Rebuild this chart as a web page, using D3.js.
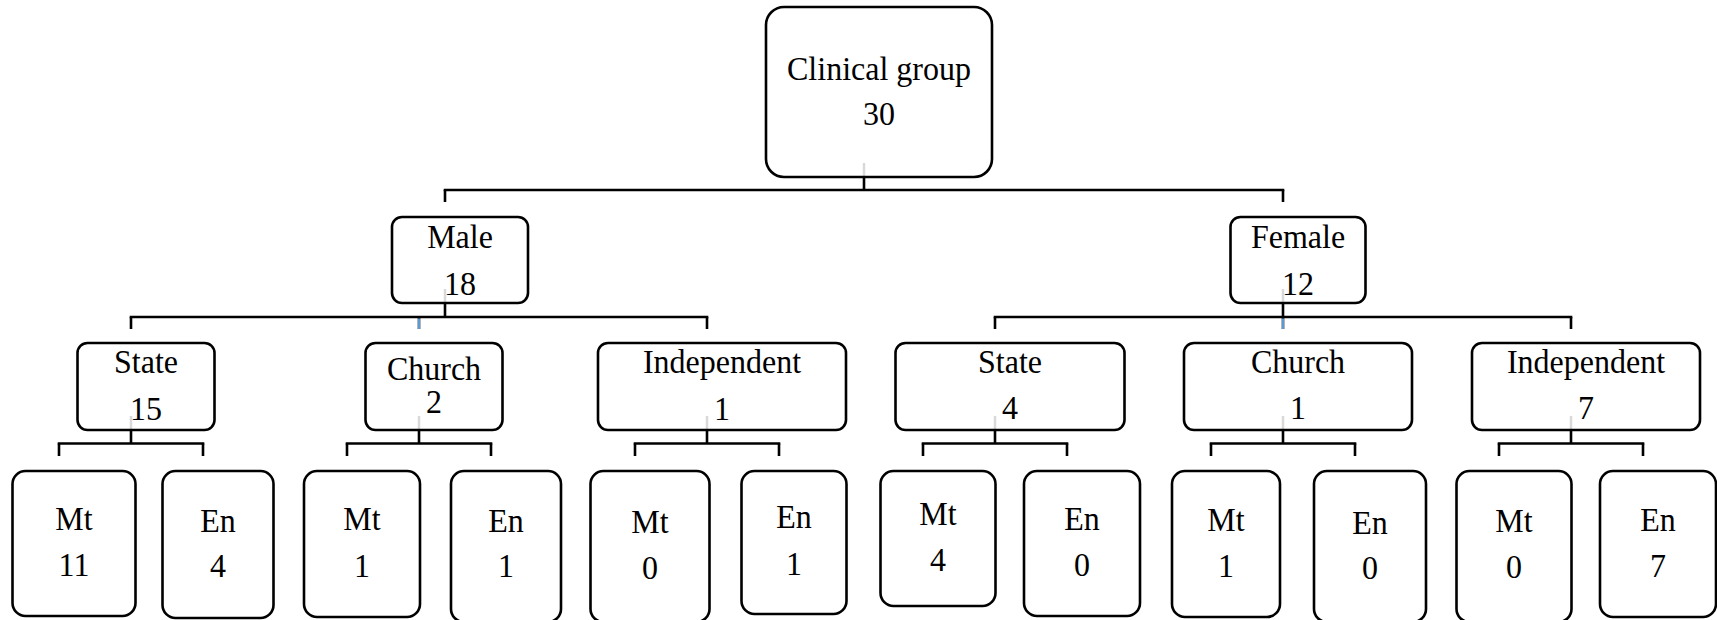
<!DOCTYPE html>
<html>
<head>
<meta charset="utf-8">
<script src="https://cdn.jsdelivr.net/npm/d3@7/dist/d3.min.js"></script>
<style>
  html, body { margin: 0; padding: 0; background: #fff; }
  svg { display: block; }
  text { font-family: "Liberation Serif", "Times New Roman", serif; font-size: 32px; fill: #000; }
</style>
</head>
<body>
<svg id="chart" width="1717" height="620"></svg>
<script>
// ---------- DATA ----------
const rootName = "Clinical group";
const rootTotal = 30;
const genders = ["Male", "Female"];
const genderTotals = [18, 12];
const schoolTypes = ["State", "Church", "Independent"];
const schoolTotals = [[15, 2, 1], [4, 1, 7]];
const subjects = ["Mt", "En"];
const subjectCounts = [
  [[11, 4], [1, 1], [0, 1]],
  [[4, 0], [1, 0], [0, 7]]
];

// ---------- LAYOUT / STYLE ----------
const W = 1717, H = 620;
const levelTop = [7, 217, 343, 471];
const levelBottom = [177, 303, 430];
const barY = [190, 317, 443.5];          // horizontal connector per parent level
const dropEnd = [202, 329, 456];         // end of drops towards children
const connectorOffset = -15;
const greyLen = 14;
const leafRange = [74, 1658];
const boxWidths = [[226], [136, 135], [137, 137, 248, 229, 228, 228],
  [123, 111, 116, 110, 119, 105, 115, 116, 108, 112, 115, 116]];
const leafBottoms = [616, 618, 617, 622, 622, 614, 606, 616, 617, 622, 622, 617];
const radii = [18, 10, 10, 13];
const labelBase = [[80], [248, 248], [373, 380, 373, 373, 373, 373],
  [530, 532, 530, 532, 533, 528, 525, 530, 531, 534, 532, 531]];
const valueBase = [[125], [295, 295], [420, 413, 420, 419, 419, 419],
  [576, 577, 577, 577, 579, 575, 571, 576, 577, 579, 578, 577]];
const nodeShift = { "Male": 26 };        // manual displacement of a box in the original
const strokeW = 2.6;
const textStretchY = 1.08;
const blue = "#5b9bd5";
const grey = "#d9d9d9";

// ---------- BUILD HIERARCHY ----------
const treeData = {
  name: rootName, value: rootTotal,
  children: genders.map((g, gi) => ({
    name: g, value: genderTotals[gi],
    children: schoolTypes.map((s, si) => ({
      name: s, value: schoolTotals[gi][si],
      children: subjects.map((sub, ki) => ({ name: sub, value: subjectCounts[gi][si][ki] }))
    }))
  }))
};
const root = d3.hierarchy(treeData);
const leaves = root.leaves();
const xLeaf = d3.scalePoint().domain(d3.range(leaves.length)).range(leafRange);
leaves.forEach((l, i) => { l.cx = xLeaf(i); });

// bottom-up positions
root.eachAfter(n => {
  if (n.children) {
    const mid = (n.children[0].cx + n.children[n.children.length - 1].cx) / 2;
    n.mid = mid;
    n.cx = mid + (n.depth === 1 && nodeShift[n.data.name] ? nodeShift[n.data.name] : 0);
  }
});
const byDepth = d3.group(root.descendants(), d => d.depth);
byDepth.forEach(arr => arr.forEach((n, i) => n.di = i));

const svg = d3.select("#chart");
const g = svg.append("g");

// ---------- CONNECTORS ----------
root.descendants().filter(n => n.children).forEach(n => {
  const d = n.depth;
  const px = n.cx + connectorOffset;
  const childXs = n.children.map(c => c.cx + connectorOffset);
  g.append("line").attr("x1", px).attr("x2", px)
    .attr("y1", levelBottom[d] - greyLen).attr("y2", levelBottom[d])
    .attr("stroke", grey).attr("stroke-width", 2.5);
  g.append("line").attr("x1", px).attr("x2", px)
    .attr("y1", levelBottom[d]).attr("y2", barY[d])
    .attr("stroke", "#000").attr("stroke-width", strokeW);
  g.append("line").attr("x1", d3.min(childXs) - strokeW / 2).attr("x2", d3.max(childXs) + strokeW / 2)
    .attr("y1", barY[d]).attr("y2", barY[d])
    .attr("stroke", "#000").attr("stroke-width", strokeW);
  childXs.forEach(cx => {
    g.append("line").attr("x1", cx).attr("x2", cx)
      .attr("y1", barY[d]).attr("y2", dropEnd[d])
      .attr("stroke", "#000").attr("stroke-width", strokeW);
  });
  if (d === 1) {
    const bx = n.mid + connectorOffset;
    g.append("line").attr("x1", bx).attr("x2", bx)
      .attr("y1", barY[d] + 1.5).attr("y2", dropEnd[d])
      .attr("stroke", blue).attr("stroke-width", 2);
  }
});

// ---------- BOXES ----------
const nodes = g.selectAll("g.node").data(root.descendants()).join("g").attr("class", "node");
nodes.append("rect")
  .attr("x", n => n.cx - boxWidths[n.depth][n.di] / 2)
  .attr("y", n => levelTop[n.depth])
  .attr("width", n => boxWidths[n.depth][n.di])
  .attr("height", n => (n.depth === 3 ? leafBottoms[n.di] : levelBottom[n.depth]) - levelTop[n.depth])
  .attr("rx", n => radii[n.depth]).attr("ry", n => radii[n.depth])
  .attr("fill", "none").attr("stroke", "#000").attr("stroke-width", strokeW);

nodes.append("text")
  .attr("transform", n => `translate(${n.cx},${labelBase[n.depth][n.di]}) scale(1,${textStretchY})`)
  .attr("text-anchor", "middle")
  .text(n => n.data.name);
nodes.append("text")
  .attr("transform", n => `translate(${n.cx},${valueBase[n.depth][n.di]}) scale(1,${textStretchY})`)
  .attr("text-anchor", "middle")
  .text(n => n.data.value);
</script>
</body>
</html>
